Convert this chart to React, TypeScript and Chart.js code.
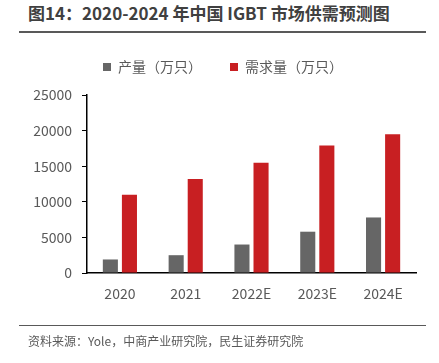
import React, { useEffect, useRef } from "react";
import { Chart, registerables } from "chart.js";

Chart.register(...registerables);

const categories = ["2020", "2021", "2022E", "2023E", "2024E"];
const production = [1900, 2500, 4000, 5800, 7800];
const demand = [11000, 13200, 15500, 17900, 19500];
const yTicks = [0, 5000, 10000, 15000, 20000, 25000];
const seriesNames = ["产量（万只）", "需求量（万只）"];
const titleText = "图14：2020-2024 年中国 IGBT 市场供需预测图";
const sourceText = "资料来源：Yole，中商产业研究院，民生证券研究院";

const FONT = "'Noto Sans CJK SC', 'Noto Sans', sans-serif";

const legendSpacer = {
  id: "legendSpacer",
  beforeInit(chart: any) {
    const legend = chart.legend;
    if (!legend) return;
    const orig = legend.fit;
    legend.fit = function () {
      orig.call(this);
      this.height += 11;
    };
  },
};

export default function App() {
  const ref = useRef<HTMLCanvasElement | null>(null);

  useEffect(() => {
    if (!ref.current) return;
    const chart = new Chart(ref.current, {
      type: "bar",
      data: {
        labels: categories,
        datasets: [
          {
            label: seriesNames[0],
            data: production,
            backgroundColor: "#666666",
            borderWidth: 0,
            categoryPercentage: 0.58,
            barPercentage: 0.79,
          },
          {
            label: seriesNames[1],
            data: demand,
            backgroundColor: "#C81F22",
            borderWidth: 0,
            categoryPercentage: 0.58,
            barPercentage: 0.79,
          },
        ],
      },
      plugins: [legendSpacer],
      options: {
        responsive: false,
        animation: false,
        layout: { padding: { top: 32, bottom: 48, left: 30, right: 23 } },
        plugins: {
          legend: {
            display: true,
            position: "top",
            labels: {
              boxWidth: 8,
              boxHeight: 8,
              padding: 28,
              color: "#595959",
              font: { family: FONT, size: 14 },
            },
          },
          tooltip: { enabled: false },
        },
        scales: {
          x: {
            grid: { display: false, drawTicks: false },
            border: { display: true, color: "#000000", width: 1.5 },
            ticks: {
              color: "#595959",
              font: { family: FONT, size: 14 },
              padding: 12,
            },
            afterFit: (s: any) => {
              s.height = 42;
            },
          },
          y: {
            min: 0,
            max: 25000,
            afterBuildTicks: (s: any) => {
              s.ticks = yTicks.map((v) => ({ value: v }));
            },
            grid: {
              display: true,
              drawOnChartArea: false,
              drawTicks: true,
              tickLength: 5,
              color: "#000000",
            },
            border: { display: true, color: "#000000", width: 1.5 },
            ticks: {
              color: "#595959",
              font: { family: FONT, size: 14 },
              padding: 10,
              callback: (v: any) => String(v),
            },
            afterFit: (s: any) => {
              s.width = 57;
            },
          },
        },
      },
    });
    return () => chart.destroy();
  }, []);

  return (
    <div
      style={{
        position: "fixed",
        left: 0,
        top: 0,
        width: 439,
        height: 363,
        background: "#ffffff",
        overflow: "hidden",
      }}
    >
      <div
        style={{
          position: "absolute",
          left: 28,
          top: 1,
          fontFamily: FONT,
          fontWeight: 700,
          fontSize: 17,
          lineHeight: "24px",
          color: "#404040",
          whiteSpace: "nowrap",
        }}
      >
        {titleText}
      </div>
      <div
        style={{
          position: "absolute",
          left: 19,
          top: 31,
          width: 407,
          height: 2,
          background: "#595959",
        }}
      />
      <canvas
        ref={ref}
        width={439}
        height={363}
        style={{ position: "absolute", left: 0, top: 0, width: 439, height: 363 }}
      />
      <div
        style={{
          position: "absolute",
          left: 19,
          top: 325,
          width: 407,
          height: 1,
          background: "#595959",
        }}
      />
      <div
        style={{
          position: "absolute",
          left: 28,
          top: 332,
          fontFamily: FONT,
          fontSize: 12,
          lineHeight: "17px",
          color: "#595959",
          whiteSpace: "nowrap",
        }}
      >
        {sourceText}
      </div>
    </div>
  );
}
